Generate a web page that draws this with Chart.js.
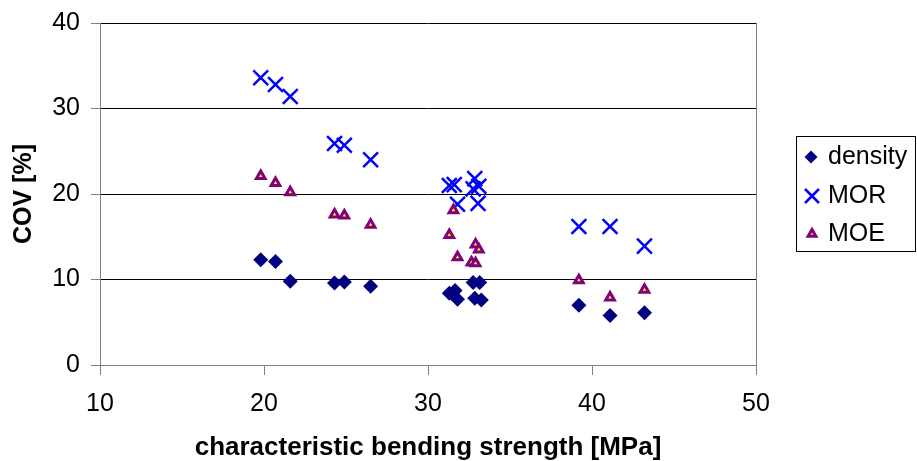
<!DOCTYPE html>
<html><head><meta charset="utf-8">
<script src="https://cdn.jsdelivr.net/npm/chart.js@4.4.1/dist/chart.umd.min.js"></script>
<style>html,body{margin:0;padding:0;background:#fff;overflow:hidden}#wrap{position:relative;width:917px;height:461px}</style>
</head><body><div id="wrap"><canvas id="c" width="917" height="461"></canvas></div>
<script>
const densityX=[19.8,20.7,21.6,24.3,24.9,26.5,31.3,31.65,31.8,32.75,33.15,32.85,33.25,39.2,41.1,43.2];
const densityY=[12.3,12.1,9.8,9.6,9.7,9.2,8.4,8.7,7.7,9.65,9.65,7.8,7.6,7.0,5.8,6.1];
const morX=[19.8,20.7,21.6,24.3,24.9,26.5,31.3,31.6,31.8,32.75,32.85,33.1,33.05,39.2,41.1,43.2];
const morY=[33.6,32.8,31.4,25.9,25.7,24.0,21.0,21.1,18.8,20.6,21.8,20.9,18.9,16.2,16.2,13.9];
const moeX=[19.8,20.7,21.6,24.3,24.9,26.5,31.3,31.55,31.8,32.65,32.9,32.9,33.1,39.2,41.1,43.2];
const moeY=[22.1,21.3,20.2,17.6,17.5,16.4,15.2,18.1,12.6,12.0,11.9,14.1,13.5,9.9,7.9,8.8];
const seriesNames=['density','MOR','MOE'];
const xTitle='characteristic bending strength [MPa]';
const yTitle='COV [%]';
const xMin=10,xMax=50,yMin=0,yMax=40,step=10;

const FONT='"Liberation Sans", Arial, sans-serif';
const pts=(xs,ys)=>xs.map((x,i)=>({x:x,y:ys[i]}));

const legendPlugin={
  id:'boxLegend',
  afterDraw(chart){
    const ctx=chart.ctx;
    ctx.save();
    ctx.strokeStyle='#000';ctx.lineWidth=1;
    ctx.strokeRect(796.5,136.5,119,115);
    ctx.font='25px '+FONT;ctx.textBaseline='middle';ctx.textAlign='left';
    const ys=[157,196,234];
    let cx=811,cy=ys[0];
    ctx.fillStyle='#000080';ctx.beginPath();ctx.moveTo(cx-6.5,cy);ctx.lineTo(cx,cy-6.5);ctx.lineTo(cx+6.5,cy);ctx.lineTo(cx,cy+6.5);ctx.closePath();ctx.fill();
    cx=812;cy=ys[1];
    ctx.strokeStyle='#0000FF';ctx.lineWidth=2.5;ctx.beginPath();ctx.moveTo(cx-7,cy-7);ctx.lineTo(cx+7,cy+7);ctx.moveTo(cx+7,cy-7);ctx.lineTo(cx-7,cy+7);ctx.stroke();
    cx=812;cy=ys[2];
    ctx.strokeStyle='#800080';ctx.fillStyle='#FFFF00';ctx.lineWidth=3;ctx.beginPath();ctx.moveTo(cx,cy-4.5);ctx.lineTo(cx+3.9,cy+2.3);ctx.lineTo(cx-3.9,cy+2.3);ctx.closePath();ctx.fill();ctx.stroke();
    ctx.fillStyle='#000';
    seriesNames.forEach((n,i)=>ctx.fillText(n,828,ys[i]));
    ctx.restore();
  }
};

new Chart(document.getElementById('c'),{
  type:'scatter',
  data:{datasets:[
    {label:seriesNames[0],data:pts(densityX,densityY),pointStyle:'rectRot',pointRadius:7.5,pointHoverRadius:7.5,backgroundColor:'#000080',borderColor:'#000080',borderWidth:0,order:3},
    {label:seriesNames[1],data:pts(morX,morY),pointStyle:'crossRot',pointRadius:10.5,pointHoverRadius:10.5,backgroundColor:'#0000FF',borderColor:'#0000FF',borderWidth:2.5,order:2},
    {label:seriesNames[2],data:pts(moeX,moeY),pointStyle:'triangle',pointRadius:5,pointHoverRadius:5,backgroundColor:'#FFFF00',borderColor:'#800080',borderWidth:3,order:1}
  ]},
  options:{
    responsive:false,animation:false,devicePixelRatio:1,
    layout:{padding:{left:0,right:161,top:23,bottom:0}},
    plugins:{legend:{display:false},tooltip:{enabled:false}},
    scales:{
      x:{type:'linear',min:xMin,max:xMax,
        ticks:{stepSize:step,color:'#000',font:{family:FONT,size:25,lineHeight:1.2},padding:14,maxRotation:0},
        grid:{color:c=>(c.tick&&c.tick.value===xMax)?'#808080':'rgba(0,0,0,0)',tickColor:'#808080',tickLength:10,lineWidth:1},
        border:{color:'#808080',width:1},
        title:{display:true,text:xTitle,color:'#000',font:{family:FONT,size:26,weight:'bold',lineHeight:1.0},padding:{top:0,bottom:0}},
        afterFit:s=>{s.height=96;}
      },
      y:{type:'linear',min:yMin,max:yMax,
        ticks:{stepSize:step,color:'#000',font:{family:FONT,size:25,lineHeight:0.9},padding:11},
        grid:{color:c=>(c.tick&&c.tick.value===yMin)?'rgba(0,0,0,0)':'#000',tickColor:'#808080',tickLength:9,lineWidth:1},
        border:{color:'#808080',width:1},
        title:{display:true,text:yTitle,color:'#000',font:{family:FONT,size:25,weight:'bold',lineHeight:1.0},padding:{top:12,bottom:0}},
        afterFit:s=>{s.width=100;}
      }
    }
  },
  plugins:[legendPlugin]
});
</script>
</body></html>
